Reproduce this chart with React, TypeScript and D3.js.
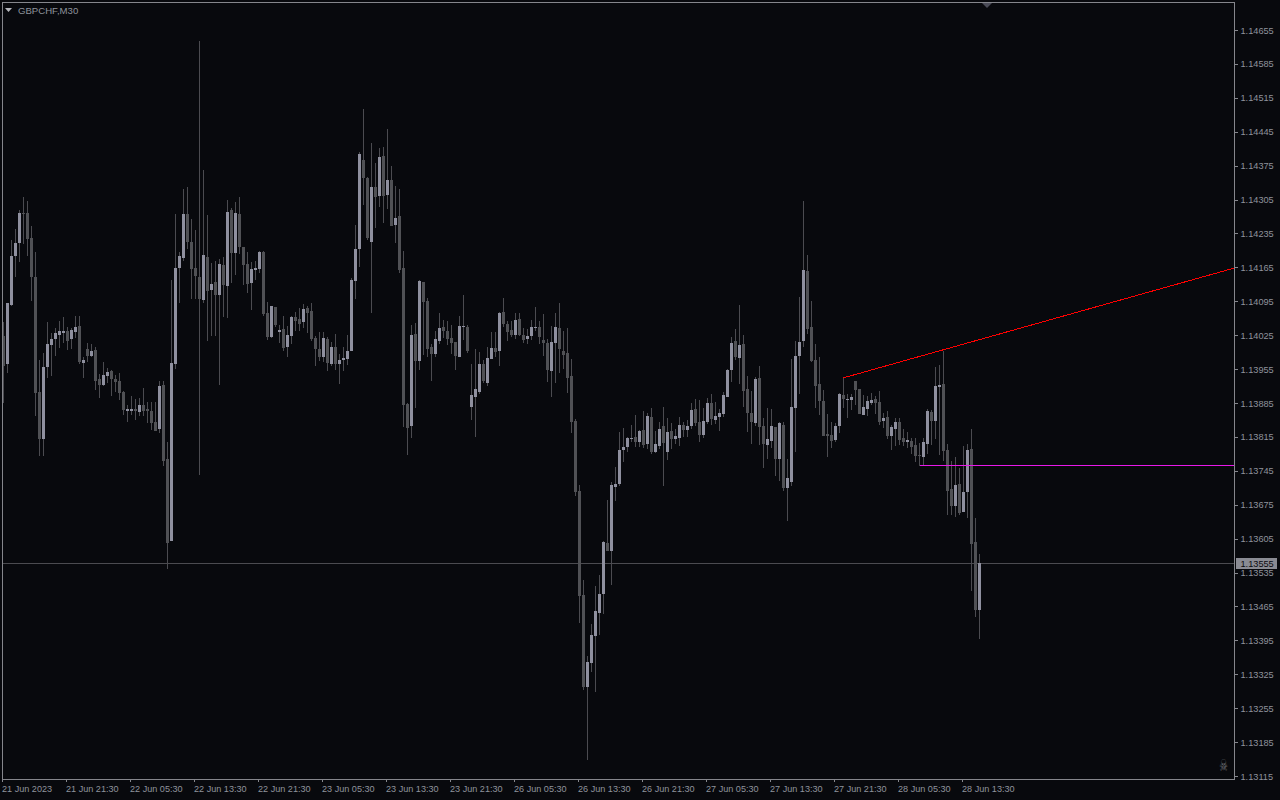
import React from 'react'
import * as d3 from 'd3'

// prices are stored as points above 1.13000
const BASE = 1.13
const opens = [
  1023, 966, 1087, 1189, 1215, 1277, 1277, 1226, 1145, 908, 811, 960, 1005, 1017, 1026, 1030,
  1034, 1017, 1032, 1044, 968, 997, 982, 995, 935, 922, 941, 951, 935, 931, 908, 869,
  869, 873, 867, 881, 873, 869, 846, 831, 922, 770, 600, 966, 1164, 1185, 1275, 1217,
  1164, 1145, 1098, 1187, 1118, 1135, 1108, 1170, 1127, 1284, 1195, 1275, 1207, 1172, 1133, 1160,
  1162, 1197, 1071, 1021, 1083, 1032, 1038, 1001, 1023, 1063, 1059, 1052, 1081, 1075, 1019, 997,
  980, 1017, 966, 1001, 966, 974, 976, 993, 1137, 1203, 1387, 1350, 1217, 1331, 1312, 1395,
  1314, 1345, 1253, 1271, 1164, 883, 838, 1028, 972, 1135, 1096, 1001, 986, 1013, 1042, 1034,
  1019, 1011, 980, 1042, 1042, 877, 898, 908, 966, 926, 976, 999, 993, 1073, 1048, 1036,
  1026, 1059, 1026, 1017, 1023, 1040, 1042, 1015, 1009, 951, 1009, 1040, 993, 988, 941, 848,
  704, 489, 299, 349, 404, 452, 491, 596, 580, 712, 718, 788, 794, 811, 815, 805,
  829, 801, 856, 784, 796, 838, 784, 827, 811, 813, 840, 829, 838, 873, 846, 819,
  846, 885, 850, 856, 863, 898, 953, 1013, 978, 1007, 914, 865, 844, 937, 838, 798,
  807, 836, 770, 840, 710, 722, 875, 982, 1013, 1158, 1042, 974, 924, 889, 821, 819,
  809, 838, 902, 891, 891, 931, 914, 860, 873, 885, 893, 887, 848, 856, 817, 832,
  846, 813, 805, 807, 798, 778, 774, 801, 867, 848, 918, 924, 788, 708, 673, 718,
  660, 702, 790, 598, 458,
]
const highs = [
  1052, 1092, 1222, 1244, 1284, 1310, 1302, 1251, 1197, 974, 988, 1052, 1030, 1040, 1054, 1063,
  1042, 1040, 1065, 1065, 980, 1009, 1007, 1001, 945, 970, 957, 953, 943, 947, 910, 881,
  900, 893, 895, 916, 887, 887, 887, 931, 931, 805, 1139, 1275, 1197, 1327, 1331, 1265,
  1242, 1632, 1366, 1273, 1174, 1178, 1182, 1187, 1304, 1288, 1300, 1310, 1207, 1197, 1176, 1178,
  1199, 1199, 1094, 1085, 1083, 1046, 1065, 1044, 1065, 1073, 1081, 1090, 1085, 1092, 1023, 1032,
  1032, 1021, 1011, 1028, 986, 1001, 1026, 1143, 1253, 1403, 1492, 1352, 1422, 1381, 1412, 1414,
  1451, 1374, 1333, 1327, 1199, 885, 1046, 1050, 1139, 1135, 1102, 1007, 1034, 1071, 1056, 1054,
  1046, 1011, 1065, 1108, 1046, 966, 997, 991, 974, 1001, 1032, 1032, 1073, 1102, 1054, 1054,
  1071, 1071, 1040, 1038, 1056, 1083, 1054, 1069, 1017, 1044, 1071, 1092, 1034, 1040, 976, 852,
  716, 520, 363, 429, 507, 530, 600, 685, 722, 753, 825, 834, 815, 840, 860, 829,
  869, 865, 875, 827, 846, 877, 854, 844, 832, 856, 846, 850, 885, 893, 891, 875,
  895, 904, 887, 873, 908, 955, 1021, 1038, 1087, 1026, 941, 910, 939, 962, 854, 875,
  873, 836, 846, 846, 770, 976, 1013, 1104, 1302, 1191, 1096, 1007, 980, 912, 862, 846,
  844, 906, 937, 904, 904, 931, 914, 902, 900, 906, 900, 910, 865, 869, 840, 854,
  854, 832, 825, 813, 813, 803, 813, 873, 871, 960, 964, 993, 800, 765, 774, 751,
  796, 800, 832, 648, 573,
]
const lows = [
  885, 947, 1085, 1145, 1176, 1213, 1189, 1096, 858, 776, 776, 937, 941, 982, 999, 1009,
  995, 997, 1019, 966, 937, 970, 980, 912, 895, 920, 926, 900, 908, 891, 860, 846,
  860, 850, 858, 858, 844, 829, 827, 823, 755, 543, 600, 955, 1092, 1178, 1203, 1100,
  1100, 737, 1092, 1013, 1023, 1023, 922, 1063, 1061, 1133, 1149, 1193, 1129, 1112, 1077, 1139,
  1154, 1065, 1015, 1019, 1042, 1009, 993, 980, 1007, 1034, 1034, 1040, 1030, 1013, 962, 972,
  970, 951, 962, 953, 924, 951, 964, 993, 1100, 1166, 1294, 1222, 1071, 1246, 1290, 1257,
  1286, 1251, 1215, 1154, 836, 778, 813, 875, 953, 984, 980, 931, 980, 1007, 1019, 1005,
  986, 953, 980, 1015, 988, 850, 815, 904, 926, 920, 976, 980, 962, 1042, 1013, 1021,
  1017, 1023, 1009, 1007, 1015, 1034, 1007, 982, 929, 898, 926, 947, 955, 906, 823, 693,
  431, 293, 148, 330, 289, 406, 450, 580, 510, 683, 714, 763, 784, 805, 794, 794,
  792, 790, 780, 782, 790, 714, 768, 790, 801, 796, 815, 815, 832, 838, 805, 813,
  842, 840, 842, 827, 856, 898, 929, 974, 924, 877, 825, 801, 838, 798, 751, 770,
  792, 735, 724, 704, 642, 714, 784, 904, 1001, 1028, 970, 875, 860, 817, 774, 792,
  805, 823, 875, 854, 871, 881, 863, 860, 858, 881, 863, 840, 834, 811, 788, 796,
  798, 796, 792, 780, 763, 755, 755, 780, 798, 811, 778, 765, 654, 654, 650, 654,
  660, 648, 497, 444, 398,
]
const closes = [
  962, 1092, 1189, 1215, 1277, 1275, 1224, 1145, 906, 811, 960, 1007, 1017, 1030, 1034, 1034,
  1013, 1036, 1042, 970, 974, 982, 993, 931, 922, 943, 949, 935, 929, 906, 871, 873,
  873, 869, 881, 869, 869, 844, 827, 920, 765, 596, 968, 1164, 1189, 1275, 1217, 1162,
  1147, 1100, 1191, 1116, 1131, 1108, 1172, 1129, 1279, 1195, 1277, 1207, 1170, 1131, 1162, 1164,
  1197, 1069, 1021, 1085, 1046, 1036, 999, 1026, 1063, 1054, 1048, 1079, 1071, 1017, 997, 980,
  1019, 968, 1001, 966, 974, 978, 993, 1139, 1203, 1399, 1350, 1226, 1331, 1310, 1393, 1312,
  1345, 1251, 1267, 1160, 881, 834, 1026, 972, 1137, 1094, 997, 986, 1017, 1040, 1034, 1017,
  1009, 982, 1044, 1044, 993, 902, 914, 966, 931, 978, 999, 991, 1071, 1048, 1032, 1026,
  1056, 1026, 1015, 1023, 1042, 1042, 1021, 1009, 953, 1011, 1042, 997, 984, 937, 846, 702,
  487, 299, 351, 406, 456, 491, 598, 580, 716, 718, 788, 794, 813, 813, 805, 827,
  798, 858, 784, 801, 832, 803, 825, 811, 817, 840, 829, 838, 871, 844, 819, 848,
  885, 852, 858, 865, 902, 953, 1009, 980, 1005, 910, 865, 846, 935, 836, 801, 811,
  838, 770, 844, 710, 730, 877, 982, 1011, 1160, 1038, 972, 920, 889, 817, 817, 807,
  838, 904, 893, 893, 898, 912, 863, 877, 889, 891, 885, 846, 854, 817, 836, 846,
  809, 805, 809, 794, 776, 776, 805, 869, 848, 920, 922, 786, 704, 673, 716, 658,
  702, 788, 594, 458, 555,
]

const priceTicks = d3.range(0, 23).map((k) => 1.14655 - k * 0.0007)
const timeLabels = [
  '21 Jun 2023', '21 Jun 21:30', '22 Jun 05:30', '22 Jun 13:30', '22 Jun 21:30', '23 Jun 05:30',
  '23 Jun 13:30', '23 Jun 21:30', '26 Jun 05:30', '26 Jun 13:30', '26 Jun 21:30', '27 Jun 05:30',
  '27 Jun 13:30', '27 Jun 21:30', '28 Jun 05:30', '28 Jun 13:30',
]
const lastPrice = 1.13555
const trendBars = [210, 307.875]
const trendPrices = [1.13937, 1.14164]
const levelBar = 229
const levelPrice = 1.13757

const toPrice = (pts: number) => BASE + pts / 100000

const bg = '#08090d'
const frame = '#85868c'
const upBody = '#8f909f'
const downBody = '#505155'
const wick = '#4b4b50'
const axisText = '#8f939c'
const font = '"Liberation Sans", sans-serif'

const left = 2
const top = 2
const right = 1235
const bottom = 779

const x = d3.scaleLinear().domain([0, 244]).range([3.5, 979.5])
const y = d3.scaleLinear().domain([1.14655, 1.13115]).range([30, 776])

export default function App() {
  const lastY = Math.round(y(lastPrice))
  return (
    <svg
      width={1280}
      height={800}
      style={{ position: 'absolute', left: 0, top: 0, display: 'block', background: bg }}
    >
      <defs>
        <clipPath id="plot">
          <rect x={left + 1} y={top + 1} width={right - left - 1} height={bottom - top - 1} />
        </clipPath>
      </defs>

      <g clipPath="url(#plot)" shapeRendering="crispEdges">
        <line x1={left} x2={right} y1={lastY + 0.5} y2={lastY + 0.5} stroke={wick} />

        {opens.map((o, i) => {
          const up = closes[i] > o
          const px = Math.floor(x(i))
          const yTop = Math.round(y(toPrice(Math.max(o, closes[i]))))
          const yBot = Math.round(y(toPrice(Math.min(o, closes[i]))))
          const yHigh = Math.round(y(toPrice(highs[i])))
          const yLow = Math.round(y(toPrice(lows[i])))
          return (
            <g key={i}>
              <rect x={px} y={yHigh} width={1} height={yLow - yHigh} fill={wick} />
              <rect
                x={px - 1}
                y={yTop}
                width={3}
                height={Math.max(1, yBot - yTop)}
                fill={up ? upBody : downBody}
              />
            </g>
          )
        })}

        <line
          x1={x(trendBars[0])}
          y1={y(trendPrices[0])}
          x2={x(trendBars[1])}
          y2={y(trendPrices[1])}
          stroke="#ff0000"
        />
        <line
          x1={x(levelBar)}
          x2={right}
          y1={Math.round(y(levelPrice)) + 0.5}
          y2={Math.round(y(levelPrice)) + 0.5}
          stroke="#e818e8"
        />
      </g>

      {/* frame */}
      <rect
        x={left + 0.5}
        y={top + 0.5}
        width={right - left - 1}
        height={bottom - top}
        fill="none"
        stroke={frame}
        shapeRendering="crispEdges"
      />

      {/* shift marker and chart title */}
      <path d="M982,3 L992,3 L987,8 Z" fill="#4a4b57" />
      <path d="M5,8 L12,8 L8.5,12 Z" fill="#b5b6bc" />
      <text x={18} y={13.5} fontFamily={font} fontSize={9.6} fill={axisText}>
        GBPCHF,M30
      </text>
      <text
        transform="translate(1223.5,771) scale(0.8,1.35)"
        textAnchor="middle"
        fontFamily='"DejaVu Sans", sans-serif'
        fontSize={12}
        fill="#6d6e74"
      >
        ☠
      </text>

      {/* price axis */}
      {priceTicks.map((p) => (
        <g key={p}>
          <line
            x1={right}
            x2={right + 3}
            y1={Math.round(y(p)) + 0.5}
            y2={Math.round(y(p)) + 0.5}
            stroke={frame}
            shapeRendering="crispEdges"
          />
          <text x={1240.5} y={y(p) + 3.5} fontFamily={font} fontSize={9.2} fill={axisText}>
            {p.toFixed(5)}
          </text>
        </g>
      ))}
      <rect x={1236} y={lastY - 5} width={41} height={11} fill="#8a8b93" />
      <text x={1240.5} y={lastY + 4} fontFamily={font} fontSize={9.2} fill="#0a0a0e">
        {lastPrice.toFixed(5)}
      </text>

      {/* time axis */}
      {timeLabels.map((t, k) => {
        const tx = x(k * 16) - 1.5
        return (
          <g key={t}>
            <line
              x1={tx + 0.5}
              x2={tx + 0.5}
              y1={bottom}
              y2={bottom + 3}
              stroke={frame}
              shapeRendering="crispEdges"
            />
            <text x={tx} y={792} fontFamily={font} fontSize={9.1} fill={axisText}>
              {t}
            </text>
          </g>
        )
      })}
    </svg>
  )
}
